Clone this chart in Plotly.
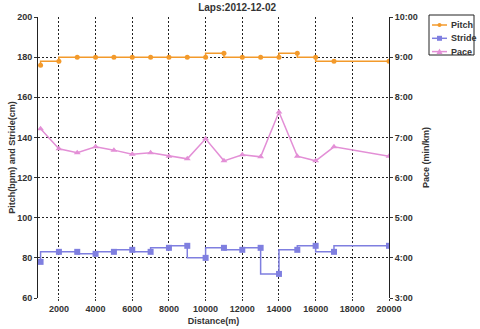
import plotly.graph_objects as go

distance = [1000, 2000, 3000, 4000, 5000, 6000, 7000, 8000, 9000, 10000,
            11000, 12000, 13000, 14000, 15000, 16000, 17000, 20000]
pitch = [176, 178, 180, 180, 180, 180, 180, 180, 180, 180,
         182, 180, 180, 180, 182, 180, 178, 178]
stride = [78, 83, 83, 82, 83, 84, 83, 85, 86, 80,
          85, 84, 85, 72, 84, 86, 83, 86]
# pace in seconds per km
pace = [433, 403, 397, 406, 401, 395, 397, 392, 388, 418,
        385, 394, 391, 458, 392, 385, 406, 392]

pace_ticks = [180, 240, 300, 360, 420, 480, 540, 600]
pace_labels = ["3:00", "4:00", "5:00", "6:00", "7:00", "8:00", "9:00", "10:00"]

FONT = "Liberation Sans, Arial, sans-serif"
C_PITCH = "#F39A2B"
C_STRIDE = "#7F7FE0"
C_PACE = "#E38FD6"
TXT = "#333333"

W, H = 480, 329
ML, MR, MT, MB = 38, 91, 17, 31
PW, PH = W - ML - MR, H - MT - MB


def px(x):
    return (x - ML) / PW


def py(y):
    return (H - MB - y) / PH


fig = go.Figure()
fig.add_trace(go.Scatter(x=distance, y=pitch, name="Pitch", mode="lines+markers",
                         line=dict(color=C_PITCH, width=1.5, shape="vh"),
                         marker=dict(symbol="circle", size=5, color=C_PITCH)))
fig.add_trace(go.Scatter(x=distance, y=stride, name="Stride", mode="lines+markers",
                         line=dict(color=C_STRIDE, width=1.5, shape="vh"),
                         marker=dict(symbol="square", size=6, color=C_STRIDE)))
fig.add_trace(go.Scatter(x=distance, y=pace, name="Pace", mode="lines+markers", yaxis="y2",
                         line=dict(color=C_PACE, width=1.5),
                         marker=dict(symbol="triangle-up", size=6, color=C_PACE)))

tickfont = dict(family=FONT, size=9, color=TXT)
titlefont = dict(family=FONT, size=9, color=TXT)

# hand-drawn compact legend (layout decoration)
shapes = [dict(type="rect", xref="paper", yref="paper", x0=px(429), x1=px(474),
               y0=py(55), y1=py(15), line=dict(color="#222222", width=1),
               fillcolor="white", layer="above")]
annotations = []
entries = [("Pitch", C_PITCH, "circle"), ("Stride", C_STRIDE, "square"), ("Pace", C_PACE, "triangle")]
for i, (name, col, sym) in enumerate(entries):
    yc = 25 + i * 13.3
    shapes.append(dict(type="line", xref="paper", yref="paper", x0=px(432), x1=px(447),
                       y0=py(yc), y1=py(yc), line=dict(color=col, width=1.5)))
    cx = 439.5
    if sym == "circle":
        shapes.append(dict(type="circle", xref="paper", yref="paper", x0=px(cx - 2), x1=px(cx + 2),
                           y0=py(yc + 2), y1=py(yc - 2), fillcolor=col, line=dict(color=col, width=0)))
    elif sym == "square":
        shapes.append(dict(type="rect", xref="paper", yref="paper", x0=px(cx - 2.5), x1=px(cx + 2.5),
                           y0=py(yc + 2.5), y1=py(yc - 2.5), fillcolor=col, line=dict(color=col, width=0)))
    else:
        path = "M %f %f L %f %f L %f %f Z" % (px(cx - 3), py(yc + 2.5), px(cx + 3), py(yc + 2.5),
                                             px(cx), py(yc - 3))
        shapes.append(dict(type="path", xref="paper", yref="paper", path=path,
                           fillcolor=col, line=dict(color=col, width=0)))
    annotations.append(dict(text="<b>%s</b>" % name, xref="paper", yref="paper", x=px(449), y=py(yc),
                            xanchor="left", yanchor="middle", showarrow=False,
                            font=dict(family=FONT, size=9, color=TXT)))

fig.update_layout(
    width=W, height=H,
    margin=dict(l=ML, r=MR, t=MT, b=MB, autoexpand=False),
    paper_bgcolor="white", plot_bgcolor="white",
    showlegend=False,
    title=dict(text="<b>Laps:2012-12-02</b>", x=0.494, xref="container", xanchor="center",
               y=1 - 7 / H, yref="container", yanchor="middle",
               font=dict(family=FONT, size=10, color=TXT), automargin=False),
    xaxis=dict(range=[860, 20000], tickvals=list(range(2000, 20001, 2000)),
               ticktext=["<b>%d</b>" % v for v in range(2000, 20001, 2000)],
               showgrid=True, gridcolor="#222222", griddash="2px,2px", gridwidth=1,
               zeroline=False, showline=False, ticks="outside", ticklen=2, tickcolor="#333",
               tickfont=tickfont, automargin=False,
               title=dict(text="<b>Distance(m)</b>", font=titlefont, standoff=4)),
    yaxis=dict(range=[60, 200], tickvals=list(range(60, 201, 20)),
               ticktext=["<b>%d</b>" % v for v in range(60, 201, 20)],
               showgrid=True, gridcolor="#222222", griddash="2px,2px", gridwidth=1,
               zeroline=False, showline=True, linecolor="#222222", linewidth=1,
               ticks="outside", ticklen=3, tickcolor="#333", tickfont=tickfont, automargin=False,
               title=dict(text="<b>Pitch(bpm) and Stride(cm)</b>", font=titlefont, standoff=0)),
    yaxis2=dict(range=[180, 600], overlaying="y", side="right", tickvals=pace_ticks,
                ticktext=["<b>%s</b>" % t for t in pace_labels],
                showgrid=False, zeroline=False, showline=True, linecolor="#222222", linewidth=1,
                ticks="outside", ticklen=3, tickcolor="#333", tickfont=tickfont, automargin=False,
                title=dict(text="<b>Pace (min/km)</b>", font=titlefont, standoff=5)),
    shapes=shapes,
    annotations=annotations,
)

fig.write_html("out.html", config={"displayModeBar": False},
               post_script="document.body.style.margin='0';")
